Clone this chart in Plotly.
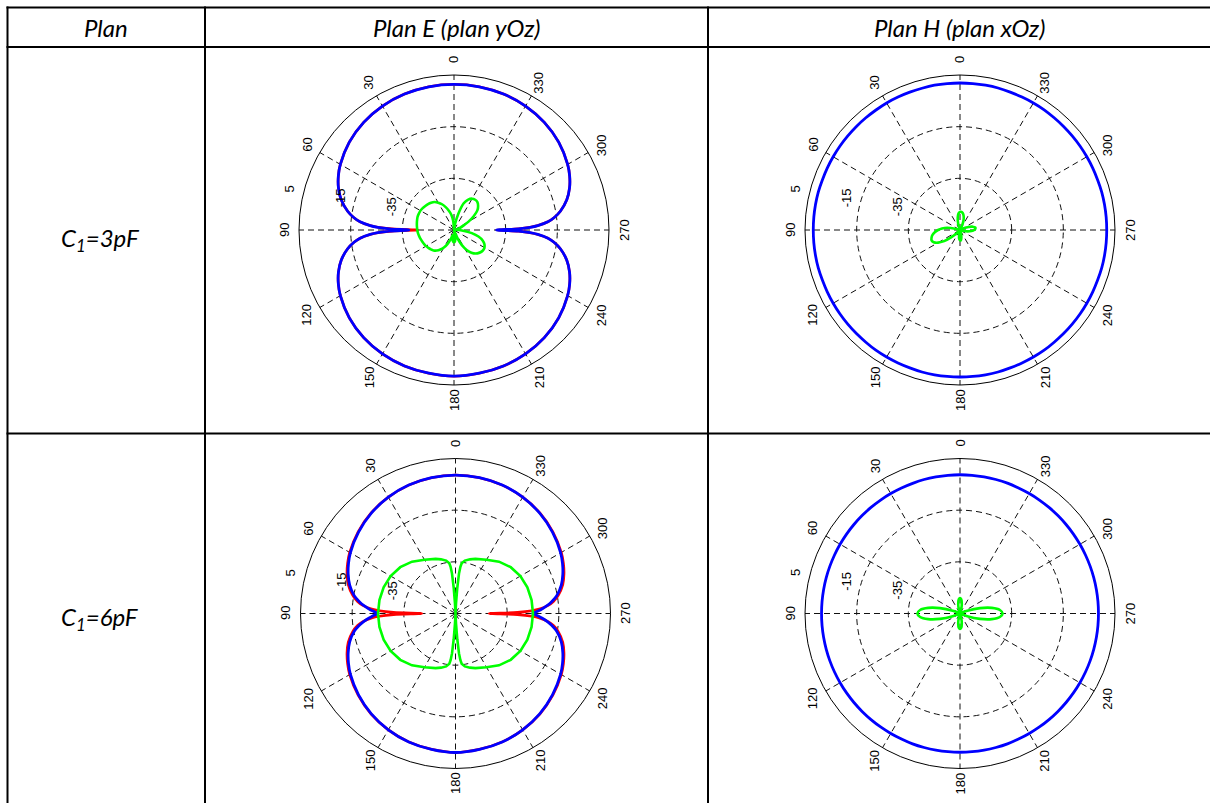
import plotly.graph_objects as go
import math

W, H = 1210, 803

# ---------------- data ----------------
ANG_TICKS = [0, 30, 60, 90, 120, 150, 180, 210, 240, 270, 300, 330]
RAD_TICKS = [-35, -15, 5]
R_MIN, R_MAX = -55, 5

HEADERS = ["Plan", "Plan E (plan yOz)", "Plan H (plan xOz)"]
ROWS = ["C<sub>1</sub>=3pF", "C<sub>1</sub>=6pF"]

E_TH = [0, 10, 20, 30, 40, 50, 60, 65, 70, 75, 80, 83, 85, 87, 88, 89, 90,
        91, 92, 93, 95, 97, 100, 105, 110, 115, 120, 130, 140, 150, 160, 170, 180,
        190, 200, 210, 220, 230, 240, 245, 250, 255, 260, 263, 265, 267, 268, 269, 270,
        271, 272, 273, 275, 277, 280, 285, 290, 295, 300, 310, 320, 330, 340, 350, 360]

E3_BLUE = [1.4, 1.3, 1.0, 0.4, -0.6, -2.1, -4.2, -5.6, -7.4, -9.8, -13.2, -16.0, -18.5, -22.5, -25.5, -30.0, -37.5,
           -30.0, -25.5, -22.5, -18.5, -16.0, -13.2, -9.8, -7.4, -5.6, -4.2, -2.1, -0.6, 0.4, 1.0, 1.3, 1.6,
           1.3, 1.0, 0.4, -0.6, -2.1, -4.2, -5.6, -7.4, -9.8, -13.2, -16.0, -18.5, -22.5, -25.5, -30.0, -38.5,
           -30.0, -25.5, -22.5, -18.5, -16.0, -13.2, -9.8, -7.4, -5.6, -4.2, -2.1, -0.6, 0.4, 1.0, 1.3, 1.4]

E3_RED = [1.4, 1.3, 1.0, 0.4, -0.6, -2.1, -4.2, -5.6, -7.4, -9.8, -13.2, -16.0, -18.5, -22.5, -25.5, -31.0, -41.0,
          -31.0, -25.5, -22.5, -18.5, -16.0, -13.2, -9.8, -7.4, -5.6, -4.2, -2.1, -0.6, 0.4, 1.0, 1.3, 1.6,
          1.3, 1.0, 0.4, -0.6, -2.1, -4.2, -5.6, -7.4, -9.8, -13.2, -16.0, -18.5, -22.5, -25.5, -30.0, -38.5,
          -30.0, -25.5, -22.5, -18.5, -16.0, -13.2, -9.8, -7.4, -5.6, -4.2, -2.1, -0.6, 0.4, 1.0, 1.3, 1.4]

E6_BLUE = [-1.4, -1.6, -2.1, -3.0, -4.3, -6.0, -8.0, -9.3, -10.8, -12.6, -15.2, -17.5, -19.3, -21.5, -22.6, -23.8, -25.0,
           -23.8, -22.6, -21.5, -19.3, -17.5, -15.2, -12.6, -10.8, -9.3, -8.0, -6.0, -4.3, -3.0, -2.1, -1.6, -1.2,
           -1.6, -2.1, -3.0, -4.3, -6.0, -8.0, -9.3, -10.8, -12.6, -15.2, -17.5, -19.3, -21.5, -22.6, -23.8, -25.2,
           -23.8, -22.6, -21.5, -19.3, -17.5, -15.2, -12.6, -10.8, -9.3, -8.0, -6.0, -4.3, -3.0, -2.1, -1.6, -1.4]

E6_RED = [-1.4, -1.6, -2.1, -3.0, -4.2, -5.8, -7.7, -8.9, -10.3, -12.0, -14.6, -16.8, -19.0, -22.5, -25.5, -31.0, -42.0,
          -31.0, -25.5, -22.5, -19.0, -16.8, -14.6, -12.0, -10.3, -8.9, -7.7, -5.8, -4.2, -3.0, -2.1, -1.6, -1.2,
          -1.6, -2.1, -3.0, -4.2, -5.8, -7.7, -8.9, -10.3, -12.0, -14.6, -16.8, -19.0, -22.5, -25.5, -31.0, -42.0,
          -31.0, -25.5, -22.5, -19.0, -16.8, -14.6, -12.0, -10.3, -8.9, -7.7, -5.8, -4.2, -3.0, -2.1, -1.6, -1.4]

G6_TH = [0, 2, 3, 4, 5, 6, 7, 10, 15, 20, 30, 40, 50, 60, 70, 80, 90,
         100, 110, 120, 130, 140, 150, 160, 165, 170, 173, 174, 175, 176, 177, 178, 180,
         182, 183, 184, 185, 186, 187, 190, 195, 200, 210, 220, 230, 240, 250, 260, 270,
         280, 290, 300, 310, 320, 330, 340, 345, 350, 353, 354, 355, 356, 357, 358, 360]

E6_GREEN = [-55, -55, -51, -45, -39.5, -36.8, -35.4, -34.2, -33.3, -32.5, -31.0, -28.8, -27.1, -26.0, -25.4, -25.1, -25.0,
            -25.1, -25.4, -26.0, -27.1, -28.8, -31.0, -32.5, -33.3, -34.2, -35.4, -36.8, -39.5, -45, -51, -55, -55,
            -55, -51, -45, -39.5, -36.8, -35.4, -34.2, -33.3, -32.5, -31.0, -28.8, -27.1, -26.0, -25.4, -25.1, -25.0,
            -25.1, -25.4, -26.0, -27.1, -28.8, -31.0, -32.5, -33.3, -34.2, -35.4, -36.8, -39.5, -45, -51, -55, -55]

G_TH = [0, 5, 10, 15, 20, 25, 30, 35, 40, 45, 50, 55, 60, 65, 70, 75, 80, 85, 90,
        95, 100, 105, 110, 115, 120, 125, 130, 135, 140, 145, 150, 155, 160, 165, 170, 175, 180,
        185, 190, 195, 200, 205, 210, 215, 220, 225, 230, 235, 240, 245, 250, 255, 260, 265, 270,
        275, 280, 285, 290, 295, 300, 305, 310, 315, 320, 325, 330, 335, 340, 345, 350, 355, 360]

E3_GREEN = [-55, -51.5, -49, -47.3, -45.6, -44, -42.8, -41.8, -41.2, -40.8, -40.5, -40.2, -40.0, -40.0, -40.0, -40.2, -40.4, -40.6, -40.8,
            -41.0, -41.3, -41.6, -41.9, -42.2, -42.5, -42.9, -43.3, -43.8, -44.6, -45.8, -47.2, -49.0, -51.0, -53.0, -52.0, -50.6, -50.3,
            -50.6, -52.5, -55, -53.5, -50, -47, -44.8, -43.2, -42.2, -41.6, -41.3, -41.4, -42.0, -43.2, -45.2, -48, -51, -53,
            -54, -54, -53.5, -52.5, -51, -48.5, -45.7, -43.2, -41.8, -40.9, -40.7, -41.0, -42.0, -44.0, -48.5, -52.5, -54.5, -55]

H3_BLUE = [1.9, 1.9, 1.9, 1.8, 1.8, 1.8, 1.8, 1.7, 1.7, 1.7, 1.7, 1.7, 1.7, 1.7, 1.7, 1.8, 1.8, 1.8, 1.8,
           1.8, 1.8, 1.8, 1.7, 1.7, 1.7, 1.7, 1.7, 1.7, 1.7, 1.8, 1.8, 1.8, 1.8, 1.9, 1.9, 1.9, 1.9,
           1.9, 1.9, 1.9, 1.8, 1.8, 1.8, 1.8, 1.7, 1.7, 1.7, 1.7, 1.7, 1.7, 1.7, 1.8, 1.8, 1.8, 1.8,
           1.8, 1.8, 1.8, 1.7, 1.7, 1.7, 1.7, 1.7, 1.7, 1.7, 1.8, 1.8, 1.8, 1.8, 1.9, 1.9, 1.9, 1.9]

H3_GREEN = [-48, -48.5, -50, -52, -54, -55, -55, -55, -55, -55, -55, -55, -55, -55, -55, -53, -50, -48, -46.5,
            -45.2, -44.2, -43.6, -43.3, -43.8, -45.2, -47.5, -50.5, -53.5, -55, -55, -55, -55, -55, -55, -53, -51.5, -51,
            -51, -52, -53.5, -55, -55, -55, -55, -55, -55, -55, -55, -55, -55, -55, -53.5, -52, -50.5, -49.5,
            -49, -49, -50, -51.5, -53.5, -55, -55, -55, -55, -55, -55, -55, -53, -51, -49.5, -48.5, -48, -48]

H6_BLUE = [-1.3, -1.3, -1.3, -1.3, -1.4, -1.4, -1.4, -1.4, -1.4, -1.4, -1.4, -1.4, -1.4, -1.4, -1.4, -1.4, -1.4, -1.4, -1.4,
           -1.4, -1.4, -1.4, -1.4, -1.4, -1.4, -1.4, -1.4, -1.4, -1.4, -1.4, -1.4, -1.4, -1.3, -1.3, -1.3, -1.3, -1.3,
           -1.3, -1.3, -1.3, -1.3, -1.4, -1.4, -1.4, -1.4, -1.4, -1.4, -1.4, -1.4, -1.4, -1.4, -1.4, -1.4, -1.4, -1.4,
           -1.4, -1.4, -1.4, -1.4, -1.4, -1.4, -1.4, -1.4, -1.4, -1.4, -1.4, -1.4, -1.4, -1.3, -1.3, -1.3, -1.3, -1.3]

H6_GREEN = [-49, -49.5, -51, -53, -55, -55, -55, -55, -55, -55, -55, -55, -55, -55, -52, -47, -42.5, -39.5, -38.5,
            -39.5, -42.5, -47, -52, -55, -55, -55, -55, -55, -55, -55, -55, -55, -55, -53, -51, -49.5, -49,
            -49.5, -51, -53, -55, -55, -55, -55, -55, -55, -55, -55, -55, -55, -52, -47, -42.5, -39.5, -38.5,
            -39.5, -42.5, -47, -52, -55, -55, -55, -55, -55, -55, -55, -55, -55, -55, -53, -51, -49.5, -49]

# ---------------- layout constants ----------------
R_PX = 155
CENTERS = {"polar": (454, 230), "polar2": (960, 230), "polar3": (455.5, 613.5), "polar4": (960, 613.5)}
BLUE, RED, GREEN = "#0000FF", "#FF0000", "#00FF00"
GRID = "#111111"
DASH = "6px,4px"

fig = go.Figure()


def add(sub, th, r, color, width, shape):
    fig.add_trace(go.Scatterpolar(theta=th, r=r, mode="lines", subplot=sub,
                                  line=dict(color=color, width=width, shape=shape),
                                  showlegend=False, hoverinfo="skip"))


add("polar", E_TH, E3_RED, RED, 2.6, "spline")
add("polar", E_TH, E3_BLUE, BLUE, 2.8, "spline")
add("polar", G_TH, E3_GREEN, GREEN, 2.6, "spline")
add("polar2", G_TH, H3_BLUE, BLUE, 2.8, "spline")
add("polar2", G_TH, H3_GREEN, GREEN, 2.6, "spline")
add("polar3", E_TH, E6_RED, RED, 2.6, "spline")
add("polar3", E_TH, E6_BLUE, BLUE, 2.8, "spline")
add("polar3", G6_TH, E6_GREEN, GREEN, 2.6, "linear")
add("polar4", G_TH, H6_BLUE, BLUE, 2.8, "spline")
add("polar4", G_TH, H6_GREEN, GREEN, 2.6, "spline")


def polar_cfg(cx, cy):
    return dict(
        domain=dict(x=[(cx - R_PX) / W, (cx + R_PX) / W],
                    y=[1 - (cy + R_PX) / H, 1 - (cy - R_PX) / H]),
        bgcolor="white",
        angularaxis=dict(rotation=90, direction="counterclockwise", tickmode="array",
                         tickvals=ANG_TICKS, showticklabels=False, ticks="",
                         showgrid=True, gridcolor=GRID, gridwidth=1, griddash=DASH,
                         showline=True, linecolor="black", linewidth=1),
        radialaxis=dict(range=[R_MIN, R_MAX], tickmode="array", tickvals=RAD_TICKS[:-1],
                        showticklabels=False, ticks="", showline=False,
                        showgrid=True, gridcolor=GRID, gridwidth=1, griddash=DASH),
    )


layout_polars = {k: polar_cfg(*v) for k, v in CENTERS.items()}

annotations = []
LBL_FONT = dict(family="Liberation Sans, Arial, sans-serif", size=13, color="black")
for key, (cx, cy) in CENTERS.items():
    for a in ANG_TICKS:
        rad = math.radians(a)
        px = cx - (R_PX + 15) * math.sin(rad)
        py = cy - (R_PX + 15) * math.cos(rad)
        annotations.append(dict(x=px / W, y=1 - py / H, xref="paper", yref="paper",
                                text=str(a), showarrow=False, textangle=-90,
                                xanchor="center", yanchor="middle", font=LBL_FONT))
    for v in RAD_TICKS:
        rr = (v - R_MIN) / (R_MAX - R_MIN) * R_PX
        rad = math.radians(80)
        px = cx - rr * math.sin(rad) - 12
        py = cy - rr * math.cos(rad) - 14
        annotations.append(dict(x=px / W, y=1 - py / H, xref="paper", yref="paper",
                                text=str(v), showarrow=False, textangle=-90,
                                xanchor="center", yanchor="middle", font=LBL_FONT))

TXT_FONT = dict(family="Lato, Carlito, sans-serif", size=24, color="black")
HEAD_X = [106, 456.5, 959]
for txt, x in zip(HEADERS, HEAD_X):
    annotations.append(dict(x=x / W, y=1 - 27 / H, xref="paper", yref="paper",
                            text="<i>" + txt + "</i>", showarrow=False,
                            xanchor="center", yanchor="middle", font=TXT_FONT))
for txt, y in zip(ROWS, [240, 618]):
    annotations.append(dict(x=100 / W, y=1 - y / H, xref="paper", yref="paper",
                            text="<i>" + txt + "</i>", showarrow=False,
                            xanchor="center", yanchor="middle", font=TXT_FONT))

shapes = []
LINE = dict(color="black", width=2)


def hline(y, x0, x1):
    shapes.append(dict(type="line", xref="paper", yref="paper", x0=x0 / W, x1=x1 / W,
                       y0=1 - y / H, y1=1 - y / H, line=LINE))


def vline(x, y0, y1):
    shapes.append(dict(type="line", xref="paper", yref="paper", x0=x / W, x1=x / W,
                       y0=1 - y0 / H, y1=1 - y1 / H, line=LINE))


hline(7.5, 6.5, 1212)
hline(47, 6.5, 1212)
hline(433.5, 6.5, 1212)
vline(7.5, 6.5, 805)
vline(205, 6.5, 805)
vline(708, 6.5, 805)

fig.update_layout(width=W, height=H, margin=dict(l=0, r=0, t=0, b=0),
                  paper_bgcolor="white", plot_bgcolor="white",
                  showlegend=False, annotations=annotations, shapes=shapes,
                  **layout_polars)

fig.write_html("out.html", config={"displayModeBar": False},
               post_script="document.body.style.margin='0px';document.body.style.overflow='hidden';")
